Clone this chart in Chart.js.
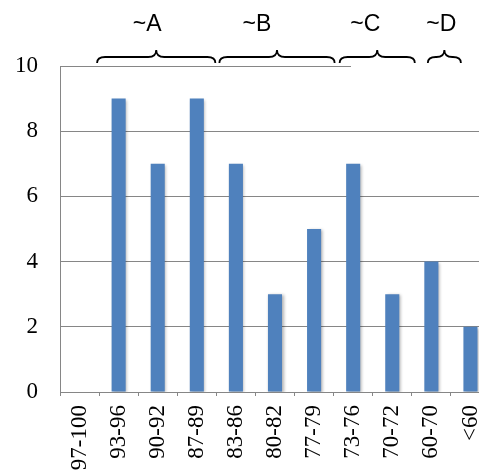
<!DOCTYPE html>
<html>
<head>
<meta charset="utf-8">
<script src="https://cdn.jsdelivr.net/npm/chart.js@4/dist/chart.umd.min.js"></script>
<style>
    html, body { margin: 0; padding: 0; background: #fff; overflow: hidden; }
    canvas { display: block; }
</style>
</head>
<body>
<canvas id="gradeChart" width="490" height="490"></canvas>
<script>
const categories = ['97-100', '93-96', '90-92', '87-89', '83-86', '80-82', '77-79', '73-76', '70-72', '60-70', '<60'];
const counts = [0, 9, 7, 9, 7, 3, 5, 7, 3, 4, 2];
const yTicks = [0, 2, 4, 6, 8, 10];

// grade groups shown as braces above the plot
const groupLabels = ['~A', '~B', '~C', '~D'];
const groupFirst = [1, 4, 7, 9];
const groupLast = [3, 6, 8, 9];

const AXIS_GRAY = '#868686';
const serif = "'Liberation Serif', 'Times New Roman', serif";

function drawBrace(ctx, x1, x2, yEnd, yLine, yTip) {
    const mid = (x1 + x2) / 2;
    const r = 8;
    ctx.beginPath();
    ctx.moveTo(x1, yEnd);
    ctx.quadraticCurveTo(x1, yLine, x1 + r, yLine);
    ctx.lineTo(mid - r, yLine);
    ctx.quadraticCurveTo(mid, yLine, mid, yTip);
    ctx.quadraticCurveTo(mid, yLine, mid + r, yLine);
    ctx.lineTo(x2 - r, yLine);
    ctx.quadraticCurveTo(x2, yLine, x2, yEnd);
    ctx.stroke();
}

const barShadow = {
    id: 'barShadow',
    beforeDatasetsDraw(chart) {
        const ctx = chart.ctx;
        ctx.save();
        ctx.shadowColor = 'rgba(0, 0, 0, 0.3)';
        ctx.shadowBlur = 3;
        ctx.shadowOffsetX = 1.5;
        ctx.shadowOffsetY = 1;
    },
    afterDatasetsDraw(chart) {
        chart.ctx.restore();
    }
};

const groupBraces = {
    id: 'groupBraces',
    afterDraw(chart, args, opts) {
        const ctx = chart.ctx;
        const x = chart.scales.x;
        const half = (x.getPixelForValue(1) - x.getPixelForValue(0)) / 2;
        const top = chart.chartArea.top;

        ctx.save();
        // the overlay hides the right part of the top gridline
        ctx.fillStyle = '#fff';
        ctx.fillRect(opts.maskFrom, top - 3, chart.width, 6);

        ctx.strokeStyle = '#000';
        ctx.lineWidth = 1.8;
        ctx.fillStyle = '#000';
        ctx.font = "23px 'Liberation Sans', Arial, sans-serif";
        ctx.textAlign = 'center';
        ctx.textBaseline = 'alphabetic';

        groupLabels.forEach((label, i) => {
            const shift = opts.shift[i];
            const x1 = x.getPixelForValue(groupFirst[i]) - half + shift[0];
            const x2 = x.getPixelForValue(groupLast[i]) + half + shift[1];
            drawBrace(ctx, x1, x2, top - 3, top - 9, top - 16);
            ctx.fillText(label, (x1 + x2) / 2 + opts.textShift[i], 31);
        });
        ctx.restore();
    }
};

new Chart(document.getElementById('gradeChart'), {
    type: 'bar',
    data: {
        labels: categories,
        datasets: [{
            data: counts,
            backgroundColor: '#4F81BD',
            borderWidth: 0,
            categoryPercentage: 1,
            barPercentage: 0.36
        }]
    },
    options: {
        responsive: false,
        animation: false,
        layout: { padding: { top: 66, left: 0, right: 0, bottom: 0 } },
        plugins: {
            legend: { display: false },
            tooltip: { enabled: false },
            groupBraces: {
                maskFrom: 351,
                shift: [[-2, -1], [3, 1], [6, 3], [16, 10]],
                textShift: [-9, -20, -12, -3]
            }
        },
        scales: {
            x: {
                grid: {
                    offset: true,
                    drawOnChartArea: false,
                    drawTicks: true,
                    tickLength: 4,
                    color: AXIS_GRAY
                },
                border: { color: AXIS_GRAY, width: 1 },
                ticks: {
                    autoSkip: false,
                    minRotation: 90,
                    maxRotation: 90,
                    padding: 9,
                    color: '#000',
                    font: { family: serif, size: 23 }
                },
                afterFit(scale) {
                    scale.height = 98;
                    scale.paddingLeft = 0;
                    scale.paddingRight = 0;
                }
            },
            y: {
                min: 0,
                max: 10,
                afterBuildTicks(scale) {
                    scale.ticks = yTicks.map(v => ({ value: v }));
                },
                grid: {
                    color: AXIS_GRAY,
                    drawTicks: false
                },
                border: { color: AXIS_GRAY, width: 1 },
                ticks: {
                    padding: 22,
                    color: '#000',
                    font: { family: serif, size: 23 }
                },
                afterFit(scale) { scale.width = 60; }
            }
        }
    },
    plugins: [barShadow, groupBraces]
});
</script>
</body>
</html>
